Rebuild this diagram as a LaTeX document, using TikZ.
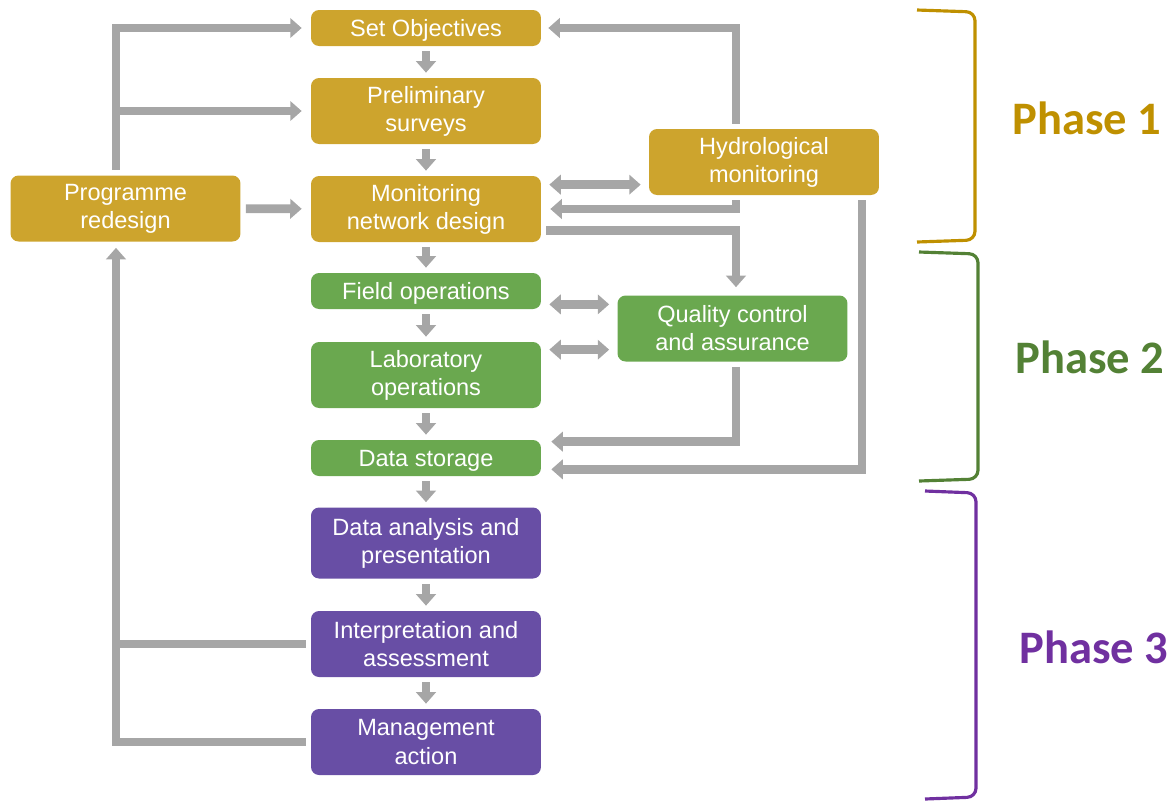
\documentclass[tikz,border=0pt]{standalone}
\usepackage{fontspec}
\setmainfont{Liberation Sans}
\newfontfamily\phasefont{Carlito}
\usetikzlibrary{arrows.meta,calc}
\usepackage{xcolor}
\definecolor{goldbox}{HTML}{CDA42D}
\definecolor{greenbox}{HTML}{6AA84F}
\definecolor{purplebox}{HTML}{684EA5}
\definecolor{goldtxt}{HTML}{BF9000}
\definecolor{greentxt}{HTML}{538135}
\definecolor{purpletxt}{HTML}{7030A0}
\definecolor{arrgray}{HTML}{A6A6A6}

\begin{document}
\begin{tikzpicture}[x=0.02cm, y=-0.02cm, >={Triangle[width=11pt,length=6.5pt]},
    box/.style={rounded corners=0.16cm, fill=#1, text=white, minimum width=4.6cm,
                minimum height=1.32cm, align=center, inner sep=1pt,
                font=\fontsize{13.4}{16}\selectfont,
                execute at begin node={\rule{0pt}{13pt}}},
    twoline/.style={box=#1, execute at begin node={\rule{0pt}{16pt}}},
    arr/.style={->, line width=5pt, draw=arrgray, shorten <=0.1cm, shorten >=0.1cm},
    darr/.style={<->, line width=5pt, draw=arrgray, shorten <=0.16cm, shorten >=0.16cm},
    link/.style={line width=5pt, draw=arrgray},
    brace/.style={draw=#1, line width=1.8pt, rounded corners=5pt},
    phase/.style={text=#1, font=\phasefont\bfseries\fontsize{26.5}{30}\selectfont}]

  \useasboundingbox (0,0) rectangle (1173,802);

  %% ── Phase 1 ─────────────────────────────────────────────
  \node[box=goldbox, minimum height=0.72cm] (setobj) at (426,28) {Set Objectives};
  \node[twoline=goldbox] (prelim)   at (426,111)     {Preliminary\\surveys};
  \node[twoline=goldbox] (netdes)   at (426,209)     {Monitoring\\network design};
  \node[twoline=goldbox] (redesign) at (125.5,208.5) {Programme\\redesign};
  \node[twoline=goldbox] (hydro)    at (764,162)     {Hydrological\\monitoring};

  %% ── Phase 2 ─────────────────────────────────────────────
  \node[box=greenbox, minimum height=0.72cm] (fieldop) at (426,291) {Field operations};
  \node[twoline=greenbox] (labop) at (426,375) {Laboratory\\operations};
  \node[box=greenbox, minimum height=0.72cm] (datast) at (426,458) {Data storage};
  \node[twoline=greenbox] (qc) at (732.5,328.5) {Quality control\\and assurance};

  %% ── Phase 3 ─────────────────────────────────────────────
  \node[twoline=purplebox, minimum height=1.42cm] (analysis) at (426,543)
    {Data analysis and\\presentation};
  \node[twoline=purplebox] (interp) at (426,644) {Interpretation and\\assessment};
  \node[twoline=purplebox] (mgmt)   at (426,742) {Management\\action};

  %% Main sequence
  \foreach \a/\b in {setobj/prelim, prelim/netdes, netdes/fieldop, fieldop/labop,
                     labop/datast, datast/analysis, analysis/interp, interp/mgmt}{
    \draw[arr] (\a) -- (\b);
  }

  %% Routing columns
  \coordinate (lx)  at (116,0);
  \coordinate (hx)  at (736,0);
  \coordinate (hx2) at (862,0);

  %% Programme redesign feedback
  \draw[arr, shorten >=0.18cm] (redesign) -- (netdes);
  \draw[arr, shorten >=0.18cm] (lx |- redesign.north) |- (setobj.west);
  \draw[arr, shorten <=0pt, shorten >=0.18cm] (lx |- prelim.west) -- (prelim.west);
  \draw[arr, shorten >=0.12cm] (mgmt.west) -| (lx |- redesign.south);
  \draw[link] ([xshift=-0.1cm]interp.west) -- (lx |- interp.west);

  %% Hydrological monitoring links
  \draw[arr, shorten >=0.14cm] (hx |- hydro.north) |- (setobj.east);
  \draw[darr] ([yshift=-0.18cm]netdes.north east)
    -- ([yshift=-0.18cm]netdes.north east -| hydro.west);
  \draw[arr, shorten >=0.18cm] (hx |- hydro.south) |- (netdes.east);
  \draw[arr, shorten >=0.16cm] ([yshift=0.24cm]netdes.south east) -| (hx |- qc.north);
  \draw[arr, shorten >=0.2cm] (hx2 |- hydro.south) |- ([yshift=0.14cm]datast.south east);

  %% Quality control links
  \draw[darr] ([yshift=0.1cm]fieldop.south east)
    -- ([yshift=0.1cm]fieldop.south east -| qc.west);
  \draw[darr] ([yshift=-0.16cm]labop.north east)
    -- ([yshift=-0.16cm]labop.north east -| qc.west);
  \draw[arr, shorten >=0.2cm] (hx |- qc.south) |- ([yshift=-0.04cm]datast.north east);

  %% Phase brackets and labels
  \draw[brace=goldtxt]   (917,10)  -- (975,12)  -- (975,240) -- (917,242);
  \draw[brace=greentxt]  (919,252) -- (978,254) -- (978,479) -- (919,481);
  \draw[brace=purpletxt] (925,491) -- (976,493) -- (976,797) -- (925,799);
  \node[phase=goldtxt]   (ph1) at (1087,118) {Phase 1};
  \node[phase=greentxt]  (ph2) at (1090,357) {Phase 2};
  \node[phase=purpletxt] (ph3) at (1094,647) {Phase 3};

\end{tikzpicture}
\end{document}
